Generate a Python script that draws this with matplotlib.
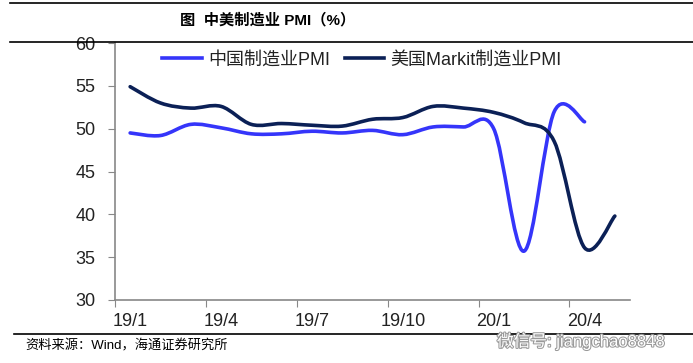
import matplotlib
matplotlib.use("Agg")
import matplotlib.pyplot as plt
import matplotlib.patheffects as pe
from matplotlib.path import Path
from matplotlib.patches import PathPatch
from matplotlib.lines import Line2D

plt.rcParams['font.family'] = ['Liberation Sans', 'Noto Sans CJK SC']

# data: monthly, 2019/1 .. 2020/5
months = ['19/1', '19/2', '19/3', '19/4', '19/5', '19/6', '19/7', '19/8', '19/9',
          '19/10', '19/11', '19/12', '20/1', '20/2', '20/3', '20/4', '20/5']
china_pmi = [49.5, 49.2, 50.5, 50.1, 49.4, 49.4, 49.7, 49.5, 49.8,
             49.3, 50.2, 50.2, 50.0, 35.7, 52.0, 50.8]
us_pmi = [54.9, 53.0, 52.4, 52.6, 50.5, 50.6, 50.4, 50.3, 51.1,
          51.3, 52.6, 52.4, 51.9, 50.7, 48.5, 36.1, 39.8]
label_cn = '中国制造业PMI'
label_us = '美国Markit制造业PMI'

BLUE = '#3535FA'
NAVY = '#0B2056'


def smooth_path(ys):
    # excel-style smoothed line: bezier segments through each point
    pts = list(enumerate(ys))
    verts = [pts[0]]
    codes = [Path.MOVETO]
    n = len(pts)
    for i in range(n - 1):
        p0 = pts[max(i - 1, 0)]
        p1 = pts[i]
        p2 = pts[i + 1]
        p3 = pts[min(i + 2, n - 1)]
        c1 = (p1[0] + (p2[0] - p0[0]) / 6, p1[1] + (p2[1] - p0[1]) / 6)
        c2 = (p2[0] - (p3[0] - p1[0]) / 6, p2[1] - (p3[1] - p1[1]) / 6)
        verts += [c1, c2, p2]
        codes += [Path.CURVE4] * 3
    return Path(verts, codes)


fig = plt.figure(figsize=(6.93, 3.63), dpi=100, facecolor='white')
ax = fig.add_axes([115 / 693, 63 / 363, 515 / 693, 257 / 363])

for ys, col in [(china_pmi, BLUE), (us_pmi, NAVY)]:
    ax.add_patch(PathPatch(smooth_path(ys), facecolor='none', edgecolor=col,
                           lw=2.6, capstyle='round', joinstyle='round'))

ax.set_xlim(-0.5, len(months) - 0.5)
ax.set_ylim(30, 60)
ax.set_yticks(range(30, 61, 5))

ax.set_xticks([i - 0.5 for i in range(0, len(months), 3)])
ax.set_xticklabels([])
ax.set_xticks(range(0, len(months), 3), minor=True)
ax.set_xticklabels(months[::3], minor=True)
ax.tick_params(axis='x', which='major', length=5, color='#888888', direction='out')
ax.tick_params(axis='x', which='minor', length=0, pad=9, labelsize=13,
               labelcolor='#222222')
ax.tick_params(axis='y', length=5, color='#888888', direction='out',
               labelsize=13, labelcolor='#222222', pad=9)

for s in ['top', 'right']:
    ax.spines[s].set_visible(False)
for s in ['left', 'bottom']:
    ax.spines[s].set_color('#888888')
    ax.spines[s].set_linewidth(1.2)

handles = [Line2D([], [], color=BLUE, lw=2.6), Line2D([], [], color=NAVY, lw=2.6)]
ax.legend(handles, [label_cn, label_us], ncol=2, frameon=False,
          loc='upper left', bbox_to_anchor=(0.06, 1.03), handlelength=2.2,
          handletextpad=0.35, columnspacing=0.8, fontsize=13,
          labelcolor='#222222')

# title block
fig.add_artist(Line2D([10 / 693, 1], [1 - 3 / 363] * 2, color='black', lw=1.2))
fig.add_artist(Line2D([10 / 693, 1], [1 - 42 / 363] * 2, color='black', lw=1.2))
fig.text(268 / 693, 1 - 20 / 363, '图  中美制造业 PMI（%）', ha='center', va='center',
         fontsize=11, fontweight='bold')

# source
fig.add_artist(Line2D([14 / 693, 1], [1 - 334 / 363] * 2, color='black', lw=1.2))
fig.text(25 / 693, 1 - 346 / 363, '资料来源：Wind，海通证券研究所', ha='left', va='center',
         fontsize=9.5)

# watermark
fig.text(497 / 693, 1 - 341 / 363, '微信号: jiangchao8848', ha='left', va='center',
         fontsize=12, color='white',
         path_effects=[pe.withStroke(linewidth=1.5, foreground='#999999')])

fig.savefig('out.png', dpi=100, facecolor='white')
